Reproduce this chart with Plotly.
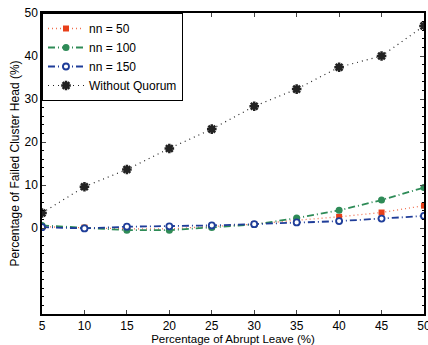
import plotly.graph_objects as go

x_vals = [5, 10, 15, 20, 25, 30, 35, 40, 45, 50]
nn50 = [0.3, 0.1, -0.2, -0.2, 0.3, 0.9, 1.8, 2.6, 3.6, 5.2]
nn100 = [0.6, 0.0, -0.5, -0.5, 0.1, 0.8, 2.3, 4.1, 6.5, 9.4]
nn150 = [0.2, -0.1, 0.3, 0.4, 0.6, 0.9, 1.3, 1.6, 2.2, 2.8]
without_quorum = [3.5, 9.6, 13.6, 18.5, 23.0, 28.3, 32.3, 37.4, 40.0, 47.0]
y_ticks = [0, 10, 20, 30, 40, 50]
x_ticks = [5, 10, 15, 20, 25, 30, 35, 40, 45, 50]

fig = go.Figure()
fig.add_trace(go.Scatter(x=x_vals, y=nn50, name="nn = 50", mode="lines+markers",
                         line=dict(color="#f07050", width=1.3, dash="1px,3px"),
                         marker=dict(symbol="square", size=6, color="#e8401a")))
fig.add_trace(go.Scatter(x=x_vals, y=nn100, name="nn = 100", mode="lines+markers",
                         line=dict(color="#2e8b57", width=1.8, dash="7px,3px,1px,3px"),
                         marker=dict(symbol="circle", size=7, color="#2e8b57")))
fig.add_trace(go.Scatter(x=x_vals, y=nn150, name="nn = 150", mode="lines+markers",
                         line=dict(color="#1f3d99", width=1.8, dash="7px,3px,1px,3px"),
                         marker=dict(symbol="circle", size=6, color="white",
                                     line=dict(color="#1f3d99", width=1.8))))
fig.add_trace(go.Scatter(x=x_vals, y=without_quorum, name="Without Quorum", mode="lines+markers",
                         line=dict(color="#222222", width=1.2, dash="1px,4px"),
                         marker=dict(symbol="asterisk-open", size=8,
                                     line=dict(color="black", width=2.5))))

xtitle_font = dict(family="Liberation Sans, Arial", size=11.5, color="black")
ytitle_font = dict(family="Liberation Sans, Arial", size=12, color="black")
tick_font = dict(family="Liberation Sans, Arial", size=12, color="black")
fig.update_layout(
    width=428, height=345,
    margin=dict(l=42, r=4, t=13, b=31),
    plot_bgcolor="white", paper_bgcolor="white",
    font=tick_font,
    showlegend=True,
    legend=dict(x=0, y=1, xanchor="left", yanchor="top",
                bordercolor="black", borderwidth=1, bgcolor="white",
                font=dict(family="Liberation Sans, Arial", size=12, color="black"),
                tracegroupgap=0, itemwidth=36),
)
fig.update_xaxes(range=[5, 50], tickvals=x_ticks, ticks="inside", ticklen=4,
                 showline=True, linecolor="black", linewidth=1.5, mirror="ticks",
                 showgrid=False, zeroline=False, ticklabeloverflow="allow",
                 automargin=False,
                 title=dict(text="Percentage of Abrupt Leave (%)", standoff=4, font=xtitle_font),
                 tickfont=tick_font)
fig.update_yaxes(range=[-20, 50], tickvals=y_ticks, ticks="inside", ticklen=4,
                 showline=True, linecolor="black", linewidth=1.5, mirror="ticks",
                 showgrid=False, zeroline=False, automargin=False,
                 minor=dict(dtick=2, ticks="inside", ticklen=2, tickcolor="black"),
                 title=dict(text="Percentage of Failed Cluster Head (%)", standoff=2, font=ytitle_font),
                 tickfont=tick_font)

fig.write_html("out.html", config={"displayModeBar": False},
               post_script="document.body.style.margin='0';document.body.style.overflow='hidden';")
